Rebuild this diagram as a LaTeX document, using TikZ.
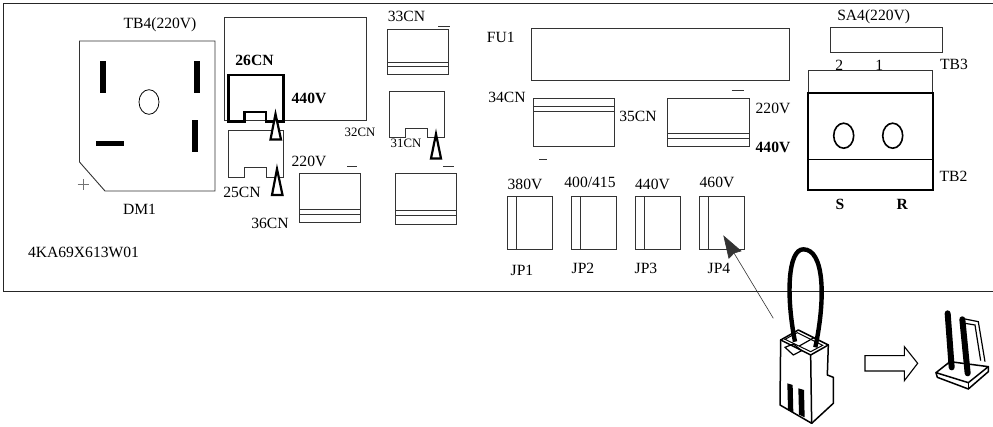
\documentclass[tikz,border=0pt]{standalone}
\usepackage{fontspec}
\setmainfont{Liberation Serif}
\usetikzlibrary{arrows.meta}
\tikzset{
  lbl/.style={inner sep=0pt,font=\fontsize{15.6}{16}\selectfont},
  blbl/.style={inner sep=0pt,font=\fontsize{15.6}{16}\selectfont\bfseries},
  slbl/.style={inner sep=0pt,font=\fontsize{12.8}{14}\selectfont},
  thinl/.style={draw=black!80,line width=0.9pt},
  heavy/.style={draw=black,line width=2.4pt,line join=miter},
  tri/.style={draw=black,line width=2.2pt,fill=white,line join=miter},
  pin/.style={fill=black},
  jump/.style={draw=black,line width=1.5pt,line join=round,line cap=round},
}
\newcommand{\connbox}[6]{%
  \draw[thinl] (#1,#3) rectangle (#2,#4);
  \draw[thinl] (#1,#5) -- (#2,#5) (#1,#6) -- (#2,#6);}
\begin{document}
\begin{tikzpicture}[x=1pt,y=-1pt]
\useasboundingbox (0,0) rectangle (993,427);
% outer board
\draw[draw=black!85,line width=1pt] (992.5,4) -- (3.5,4) -- (3.5,292) -- (992.5,292);
% DM1
\draw[thinl] (79.5,41) -- (215,41) -- (215,191) -- (105,191) -- (79.5,162) -- cycle;
\fill[pin] (100,61) rectangle (106,93);
\fill[pin] (193.5,61) rectangle (199.5,93);
\fill[pin] (192,120) rectangle (198,152);
\fill[pin] (96,141) rectangle (124,146.5);
\draw[draw=black,line width=0.8pt] (149,102) ellipse [x radius=10,y radius=12.3];
\draw[draw=black!55,line width=0.7pt] (77.5,184.5) -- (88.5,184.5) (83,179) -- (83,190);
% 32CN / 26CN / 25CN
\draw[thinl] (224.5,120) -- (224.5,17) -- (366,17) -- (366,120) -- cycle;
\draw[heavy] (228.5,121.5) -- (228.5,75) -- (283.5,75) -- (283.5,121.5) -- (266,121.5) -- (266,112) -- (244.5,112) -- (244.5,121.5) -- cycle;
\draw[thinl] (228.5,130) -- (283.5,130) -- (283.5,177) -- (266,177) -- (266,167.5) -- (244.5,167.5) -- (244.5,177) -- (228.5,177) -- cycle;
% 31CN
\draw[thinl] (389.5,91) -- (444.5,91) -- (444.5,137.5) -- (427,137.5) -- (427,128) -- (405.5,128) -- (405.5,137.5) -- (389.5,137.5) -- cycle;
% connector boxes
\connbox{387.3}{448}{29.3}{74}{62}{66.3}
\connbox{299.3}{360}{173.7}{222.3}{209.3}{214}
\connbox{395.3}{456}{173.7}{224}{210.7}{215.3}
\connbox{533.3}{614.7}{98.3}{146.7}{106.3}{111}
\connbox{667.7}{749}{98}{146}{133.7}{138.3}
\foreach \a/\b/\y in {438.3/450/26,347/357/166,443.3/454.3/166,539.3/547.3/159,731.7/744.3/90}
  \draw[thinl] (\a,\y) -- (\b,\y);
% triangles
\draw[tri] (275.5,114) -- (281,139.5) -- (270.5,139.5) -- cycle;
\draw[tri] (277,169) -- (282.5,195) -- (272,195) -- cycle;
\draw[tri] (436,134) -- (441,158.5) -- (431,158.5) -- cycle;
% FU1
\draw[thinl] (531.3,28.3) rectangle (789,80.7);
% JP blocks
\foreach \l/\i/\r in {507.3/516/552.3,571.3/580.3/616.7,635.3/644/680.7,699.3/708/744.7}{
  \draw[thinl] (\l,196.7) rectangle (\r,249.7);
  \draw[thinl] (\i,196.7) -- (\i,249.7);}
% SA4, TB3, TB2
\draw[thinl] (830,27.7) rectangle (942.3,52.3);
\draw[thinl] (808.3,93) -- (808.3,70) -- (932.7,70) -- (932.7,93);
\draw[draw=black,line width=2pt] (808.3,93.3) rectangle (932.7,190.3);
\draw[draw=black,line width=1pt] (808.3,159.3) -- (932.7,159.3);
\draw[draw=black,line width=1.6pt] (843.7,135.7) ellipse [x radius=10,y radius=12.5];
\draw[draw=black,line width=1.6pt] (892.7,135.7) ellipse [x radius=10,y radius=12.5];
% labels
\node[lbl] (tb4) at (160,25) {TB4(220V)};
\node[lbl] (dm1) at (139.5,209) {DM1};
\node[lbl] (code) at (83.5,252) {4KA69X613W01};
\node[blbl] (c26) at (254.5,60) {26CN};
\node[blbl] (v440a) at (309,98) {440V};
\node[lbl] (v220a) at (309,161) {220V};
\node[lbl] (c25) at (242,192) {25CN};
\node[lbl] (c36) at (270,223) {36CN};
\node[slbl] (c32) at (360,132) {32CN};
\node[slbl] (c31) at (406,143) {31CN};
\node[lbl] (c33) at (406.5,16) {33CN};
\node[lbl] (fu1) at (500.7,37) {FU1};
\node[lbl] (c34) at (507,97) {34CN};
\node[lbl] (c35) at (638,116) {35CN};
\node[lbl] (v220b) at (773,108) {220V};
\node[blbl] (v440b) at (773,147) {440V};
\node[lbl] (v380) at (525,184) {380V};
\node[lbl] (v400) at (590,182) {400/415};
\node[lbl] (v440c) at (652.5,184) {440V};
\node[lbl] (v460) at (717,182) {460V};
\node[lbl] (jp1) at (522,270) {JP1};
\node[lbl] (jp2) at (583,268) {JP2};
\node[lbl] (jp3) at (646,268) {JP3};
\node[lbl] (jp4) at (719,268) {JP4};
\node[lbl] (sa4) at (873.7,17) {SA4(220V)};
\node[lbl] (n2) at (839.3,65) {2};
\node[lbl] (n1) at (879.3,65) {1};
\node[lbl] (tb3) at (954,64) {TB3};
\node[lbl] (tb2) at (953.5,176) {TB2};
\node[blbl] (s) at (840,204) {S};
\node[blbl] (r) at (902.3,204) {R};
% pointer arrow
\coordinate (ptrtail) at (773.3,318.3);
\coordinate (ptrtip) at (723.3,235.3);
\draw[draw=black!80,line width=0.6pt,-{Stealth[length=23pt,width=15pt,inset=2pt]}] (ptrtail) -- (ptrtip);
% jumper
\begin{scope}[shift={(740,240)},x=0.3333pt,y=-0.3333pt]
\fill[white] (122,300) -- (175,270) -- (265,315) -- (212,345) -- (212,550) -- (120,495) -- cycle;
\fill[white] (212,345) -- (265,315) -- (262,405) -- (280,412) -- (280,490) -- (215,550) -- cycle;
\draw[jump] (122,300) -- (175,270) -- (265,315) -- (212,345) -- cycle;
\draw[jump] (122,300) -- (120,495) -- (215,550) -- (212,345);
\draw[jump] (265,315) -- (262,405) -- (280,412) -- (280,490) -- (215,550);
\draw[draw=black,line width=1pt] (135,298) -- (172,278) -- (248,316) -- (212,335) -- cycle;
\draw[draw=black,line width=1.2pt] (135,322) -- (160,312) -- (185,332) -- (160,345) -- cycle;
\draw[draw=black,line width=1.2pt] (178,318) -- (222,293);
\draw[draw=black,line width=4.4pt] (165,305) .. controls (138,170) and (143,28) .. (190,28) .. controls (252,28) and (258,170) .. (226,322);
\fill[black] (142,430) -- (158,435) -- (160,518) -- (144,510) -- cycle;
\fill[black] (175,445) -- (192,450) -- (194,532) -- (177,524) -- cycle;
\end{scope}
% block arrow
\begin{scope}[shift={(850,290)},x=0.3333pt,y=-0.3333pt]
\draw[draw=black,line width=1.1pt] (45,197) -- (163,197) -- (163,170) -- (203,220) -- (163,272) -- (163,243) -- (45,243) -- cycle;
% header
\draw[jump,fill=white] (258,248) -- (300,215) -- (415,230) -- (355,278) -- cycle;
\draw[jump] (258,248) -- (262,262) -- (355,297) -- (415,245) -- (415,230);
\draw[jump] (355,278) -- (355,297);
\draw[draw=black,line width=1.2pt] (335,85) -- (385,95) -- (405,215);
\draw[draw=black,line width=1.2pt] (345,100) -- (375,105) -- (392,212);
\draw[draw=black,line width=6pt,line cap=round] (293,70) -- (305,232);
\draw[draw=black,line width=6pt,line cap=round] (337,88) -- (353,250);
\end{scope}
\end{tikzpicture}
\end{document}
